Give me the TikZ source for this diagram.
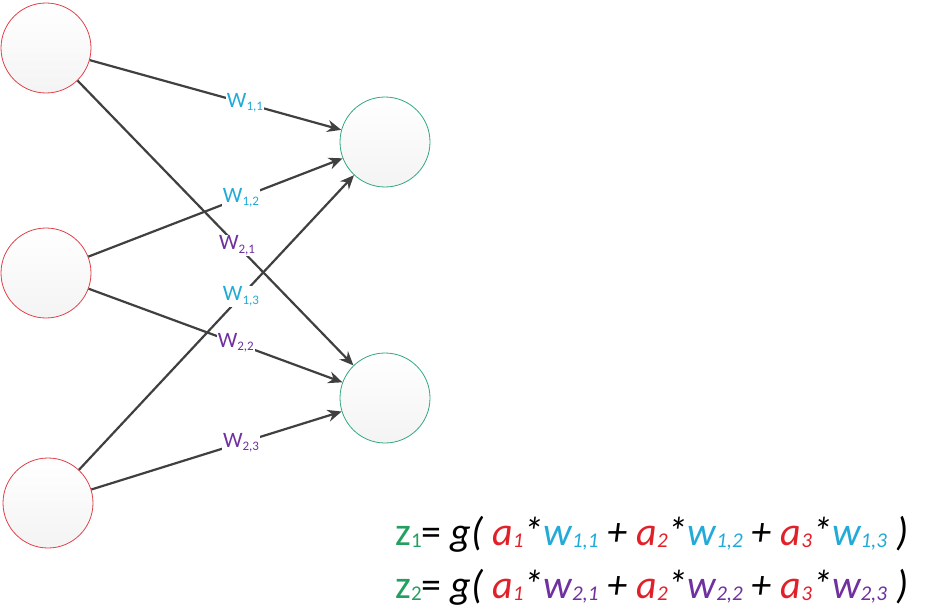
\documentclass[tikz,border=0pt]{standalone}
\usepackage{fontspec}
\setmainfont{Carlito}
\usetikzlibrary{arrows.meta}
\definecolor{cyanw}{HTML}{22AAD8}
\definecolor{purw}{HTML}{7030A0}
\definecolor{reda}{HTML}{E2202A}
\definecolor{greenz}{HTML}{22A060}
\definecolor{incirc}{HTML}{E04048}
\definecolor{outcirc}{HTML}{30A880}
\definecolor{edgec}{HTML}{404040}
\newcommand\lw[3]{\textcolor{#1}{W\raisebox{-0.3ex}{\fontsize{13}{15}\selectfont #2,#3}}}
\newcommand\fsub[1]{\raisebox{-2.5pt}{\fontsize{21}{24}\selectfont #1}}
\newcommand\fw[3]{\textcolor{#1}{w\fsub{#2,#3}}}
\newcommand\fa[1]{\textcolor{reda}{a\fsub{#1}}}
\begin{document}
\begin{tikzpicture}[x=1pt,y=-1pt,
 neuron/.style={circle,minimum size=90pt,inner sep=0pt,line width=0.8pt,top color=white,bottom color=gray!9},
 inneuron/.style={neuron,draw=incirc},
 outneuron/.style={neuron,draw=outcirc},
 conn/.style={draw=edgec,line width=2.2pt,-{Stealth[length=14pt,width=12pt]}},
 wlab/.style={fill=white,inner sep=1pt,font=\fontsize{22}{26}\selectfont},
 formula/.style={anchor=base west,inner sep=0pt,font=\fontsize{40}{48}\selectfont}]
\useasboundingbox (0,0) rectangle (928,615);
\node[inneuron] (a1) at (46,48) {};
\node[inneuron] (a2) at (46,273) {};
\node[inneuron] (a3) at (48,503) {};
\node[outneuron] (z1) at (385,142) {};
\node[outneuron] (z2) at (385,398) {};
\draw[conn] (a1) -- node[wlab,pos=0.617]{\lw{cyanw}{1}{1}} (z1);
\draw[conn] (a1) -- node[wlab,pos=0.578]{\lw{purw}{2}{1}} (z2);
\draw[conn] (a2) -- node[wlab,pos=0.6]{\lw{cyanw}{1}{2}} (z1);
\draw[conn] (a2) -- node[wlab,pos=0.58]{\lw{purw}{2}{2}} (z2);
\draw[conn] (a3) -- node[wlab,pos=0.589]{\lw{cyanw}{1}{3}} (z1);
\draw[conn] (a3) -- node[wlab,pos=0.598]{\lw{purw}{2}{3}} (z2);
\node[formula] (f1) at (395,545) {\textcolor{greenz}{z\fsub{1}}= \textit{g( \fa{1}*\fw{cyanw}{1}{1} + \fa{2}*\fw{cyanw}{1}{2} + \fa{3}*\fw{cyanw}{1}{3} )}};
\node[formula] (f2) at (395,598) {\textcolor{greenz}{z\fsub{2}}= \textit{g( \fa{1}*\fw{purw}{2}{1} + \fa{2}*\fw{purw}{2}{2} + \fa{3}*\fw{purw}{2}{3} )}};
\end{tikzpicture}
\end{document}
